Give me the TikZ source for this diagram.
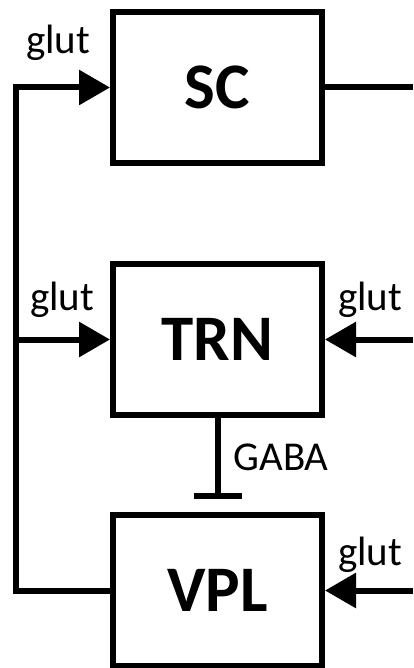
\documentclass[tikz,border=0pt]{standalone}
\usepackage{fontspec}
\setmainfont{Carlito}
\usetikzlibrary{arrows.meta,positioning}

\begin{document}
\begin{tikzpicture}[x=1pt, y=-1pt,
    node distance=94pt,
    areabox/.style={rectangle, draw, line width=6pt, minimum width=209pt, minimum height=151pt, inner sep=0pt, font=\fontsize{65}{65}\selectfont\bfseries},
    conn/.style={line width=6pt},
    excite/.style={conn, -{Triangle[length=31pt, width=34pt]}},
    inhib/.style={conn, -{Bar[width=48pt]}},
    lbl/.style={inner sep=0pt, font=\fontsize{41}{41}\selectfont}
]
\useasboundingbox (0,0) rectangle (413,668);

\node[areabox] (SC) at (217.5,87.5) {SC};
\node[areabox] (TRN) [below=95pt of SC] {TRN};
\node[areabox] (VPL) [below=of TRN] {VPL};

\coordinate (loopx) at (16,0);
\coordinate (rightx) at (413,0);
\coordinate (gabaend) at (217.5,499);

% feedback loop from VPL
\draw[excite] (VPL.west) -| (loopx |- SC.west) -- (SC.west);
\draw[excite] (loopx |- TRN.west) -- (TRN.west);

% right side
\draw[conn] (SC.east) -- (rightx |- SC.east);
\draw[excite] (rightx |- TRN.east) -- (TRN.east);
\draw[excite] (rightx |- VPL.east) -- (VPL.east);

% inhibition
\draw[inhib] (TRN.south) -- (gabaend);

\node[lbl] (gSC) at (58,43) {glut};
\node[lbl] (gTRNl) at (62,300) {glut};
\node[lbl] (gTRNr) at (370,300) {glut};
\node[lbl] (gVPL) at (370,555) {glut};
\node[lbl] (gaba) at (281,457) {GABA};
\end{tikzpicture}
\end{document}
